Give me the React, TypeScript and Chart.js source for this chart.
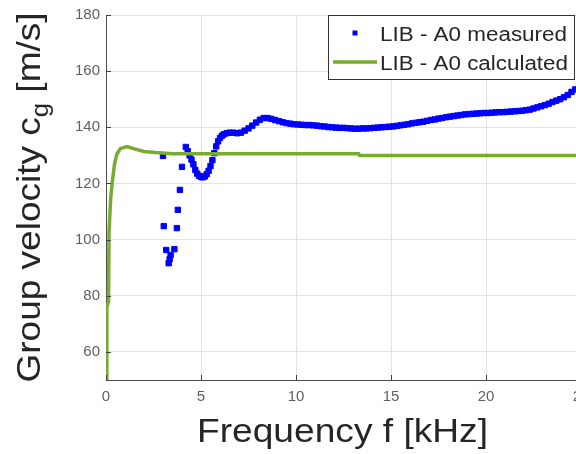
import React, { useEffect, useRef } from "react";
import { Chart, registerables } from "chart.js";

Chart.register(...registerables);

// ---------- data ----------
const xTickValues = [0, 5, 10, 15, 20, 25];
const yTickValues = [60, 80, 100, 120, 140, 160, 180];
const seriesNames = ["LIB - A0 measured", "LIB - A0 calculated"];
const xAxisTitle = "Frequency f [kHz]";
const yAxisTitleMain = "Group velocity c";
const yAxisTitleSub = "g";
const yAxisTitleTail = " [m/s]";

// calculated A0 group velocity (kHz, m/s)
const calcFreq = [0, 0.04, 0.05, 0.13, 0.16, 0.25, 0.34, 0.45, 0.57, 0.75, 1.1, 1.5, 2.0, 2.6, 3.5, 13.3, 13.35, 25];
const calcVel = [50, 62, 76, 78, 103, 115, 121, 127, 130.4, 132.4, 133.1, 132.3, 131.4, 131.0, 130.6, 130.6, 130.0, 130.0];

// measured A0 group velocity (kHz, m/s)
const measFreq = [
  3.0, 3.04, 3.17, 3.3, 3.35, 3.4, 3.6, 3.73, 3.78, 3.89, 4.0,
  4.2, 4.3, 4.4, 4.5, 4.6, 4.7, 4.8, 4.9, 5.0, 5.1, 5.2, 5.3, 5.4, 5.5, 5.6, 5.7, 5.8, 5.9, 6.0, 6.1, 6.2, 6.35, 6.5,
  6.7, 6.9, 7.1, 7.3, 7.5, 7.7, 7.9, 8.1, 8.3, 8.5, 8.7, 8.9, 9.1, 9.3, 9.5, 9.7, 9.9,
  10.1, 10.3, 10.5, 10.7, 10.9, 11.1, 11.3, 11.5, 11.7, 11.9, 12.1, 12.3, 12.5, 12.7, 12.9,
  13.1, 13.3, 13.5, 13.7, 13.9, 14.1, 14.3, 14.5, 14.7, 14.9, 15.1, 15.3, 15.5, 15.7, 15.9,
  16.1, 16.3, 16.5, 16.7, 16.9, 17.1, 17.3, 17.5, 17.7, 17.9, 18.1, 18.3, 18.5, 18.7, 18.9,
  19.1, 19.3, 19.5, 19.7, 19.9, 20.1, 20.3, 20.5, 20.7, 20.9, 21.1, 21.3, 21.5, 21.7, 21.9,
  22.1, 22.3, 22.5, 22.7, 22.9, 23.1, 23.3, 23.5, 23.7, 23.9, 24.1, 24.3, 24.5, 24.7, 24.9, 25.0,
];
const measVel = [
  129.8, 104.8, 96.3, 91.6, 93.0, 94.5, 96.6, 104.1, 110.6, 117.7, 125.9,
  133.0, 131.5, 130.0, 128.5, 126.8, 124.8, 123.5, 122.7, 122.3, 122.2, 122.5, 123.3, 124.5, 126.2, 128.3, 130.8, 133.2, 135.0, 136.2, 137.0, 137.5, 137.9, 138.1,
  138.1, 137.9, 138.1, 138.8, 139.6, 140.6, 141.7, 142.7, 143.3, 143.3, 143.0, 142.6, 142.2, 141.8, 141.5, 141.3, 141.1,
  141.0, 140.9, 140.8, 140.8, 140.7, 140.6, 140.4, 140.3, 140.1, 140.0, 139.9, 139.8, 139.8, 139.7, 139.6,
  139.5, 139.5, 139.6, 139.6, 139.7, 139.8, 139.9, 140.0, 140.1, 140.2, 140.3, 140.5, 140.7, 140.9, 141.1,
  141.4, 141.6, 141.8, 142.0, 142.3, 142.6, 142.8, 143.1, 143.3, 143.6, 143.8, 144.0, 144.2, 144.4, 144.6,
  144.7, 144.8, 144.9, 145.0, 145.1, 145.1, 145.2, 145.3, 145.4, 145.4, 145.5, 145.6, 145.7, 145.8, 145.9,
  146.1, 146.3, 146.7, 147.1, 147.5, 147.9, 148.4, 149.0, 149.5, 150.0, 150.7, 151.5, 152.6, 153.5, 154.2, 154.6,
];

// ---------- styles ----------
const BLUE = "#0000ff";
const GREEN = "#77ac30";
const TEXT = "#262626";
const FONT = '"Liberation Sans", Arial, Helvetica, sans-serif';

type Part = { t: string; size: number; dy: number };

function drawParts(ctx: CanvasRenderingContext2D, parts: Part[], target: number) {
  let total = 0;
  const widths = parts.map((p) => {
    ctx.font = `${p.size}px ${FONT}`;
    const w = ctx.measureText(p.t).width;
    total += w;
    return w;
  });
  const sx = target / total;
  ctx.save();
  ctx.scale(sx, 1);
  let x = 0;
  parts.forEach((p, i) => {
    ctx.font = `${p.size}px ${FONT}`;
    ctx.fillText(p.t, x, p.dy);
    x += widths[i];
  });
  ctx.restore();
}

const overlayPlugin = {
  id: "overlay",
  afterDraw(chart: any) {
    const { ctx, chartArea: a, scales } = chart;
    ctx.save();
    // inward tick marks
    ctx.strokeStyle = "#404040";
    ctx.lineWidth = 1;
    ctx.beginPath();
    yTickValues.forEach((v) => {
      const y = Math.round(scales.y.getPixelForValue(v)) + 0.5;
      ctx.moveTo(a.left, y);
      ctx.lineTo(a.left + 5, y);
    });
    xTickValues.forEach((v) => {
      const x = Math.round(scales.x.getPixelForValue(v)) + 0.5;
      ctx.moveTo(x, a.bottom);
      ctx.lineTo(x, a.bottom - 5);
    });
    ctx.stroke();

    ctx.fillStyle = TEXT;
    ctx.textBaseline = "alphabetic";
    ctx.textAlign = "left";

    // x axis title
    ctx.save();
    ctx.translate(342.5 - 291 / 2, 442);
    drawParts(ctx, [{ t: xAxisTitle, size: 33, dy: 0 }], 291);
    ctx.restore();

    // y axis title with subscript
    const yParts: Part[] = [
      { t: yAxisTitleMain, size: 33, dy: 0 },
      { t: yAxisTitleSub, size: 23, dy: 8 },
      { t: yAxisTitleTail, size: 33, dy: 0 },
    ];
    const yLen = 370;
    ctx.save();
    ctx.translate(40, (a.top + a.bottom) / 2 + yLen / 2);
    ctx.rotate(-Math.PI / 2);
    drawParts(ctx, yParts, yLen);
    ctx.restore();

    // legend
    const lx = 328.5, ly = 15.5, lw = 246, lh = 64;
    ctx.fillStyle = "#ffffff";
    ctx.fillRect(lx, ly, lw, lh);
    ctx.strokeStyle = "#333333";
    ctx.lineWidth = 1;
    ctx.strokeRect(lx, ly, lw, lh);
    ctx.fillStyle = BLUE;
    ctx.fillRect(352.5, 30.5, 5, 5);
    ctx.strokeStyle = GREEN;
    ctx.lineWidth = 3.5;
    ctx.beginPath();
    ctx.moveTo(333, 62);
    ctx.lineTo(377, 62);
    ctx.stroke();
    ctx.fillStyle = TEXT;
    ctx.save();
    ctx.translate(380, 41);
    drawParts(ctx, [{ t: seriesNames[0], size: 20, dy: 0 }], 187);
    ctx.restore();
    ctx.save();
    ctx.translate(380, 70);
    drawParts(ctx, [{ t: seriesNames[1], size: 20, dy: 0 }], 188);
    ctx.restore();

    ctx.restore();
  },
};

export default function App() {
  const canvasRef = useRef<HTMLCanvasElement | null>(null);

  useEffect(() => {
    document.body.style.margin = "0";
    document.documentElement.style.overflow = "hidden";
    document.body.style.overflow = "hidden";
    const canvas = canvasRef.current;
    if (!canvas) return;

    const chart = new Chart(canvas, {
      type: "scatter",
      data: {
        datasets: [
          {
            label: seriesNames[1],
            data: calcFreq.map((f, i) => ({ x: f, y: calcVel[i] })),
            showLine: true,
            borderColor: GREEN,
            backgroundColor: GREEN,
            borderWidth: 3.5,
            pointRadius: 0,
            tension: 0,
          },
          {
            label: seriesNames[0],
            data: measFreq.map((f, i) => ({ x: f, y: measVel[i] })),
            showLine: false,
            backgroundColor: BLUE,
            borderColor: BLUE,
            borderWidth: 1,
            pointStyle: "rect",
            pointRadius: 3.8,
          },
        ],
      },
      options: {
        animation: false,
        responsive: false,
        devicePixelRatio: 1,
        events: [],
        layout: { padding: { top: 13, right: 19, bottom: 0, left: 0 } },
        plugins: {
          legend: { display: false },
          tooltip: { enabled: false },
          title: { display: false },
        },
        scales: {
          x: {
            type: "linear",
            min: 0,
            max: 25,
            afterFit: (s: any) => {
              s.height = 74;
            },
            afterBuildTicks: (s: any) => {
              s.ticks = xTickValues.map((v) => ({ value: v }));
            },
            grid: { color: "#e3e3e3", drawTicks: false, lineWidth: 1 },
            border: { display: true, color: "#4d4d4d", width: 1 },
            ticks: {
              padding: 8,
              color: "#5f5f5f",
              font: { family: FONT, size: 15 },
              maxRotation: 0,
              autoSkip: false,
            },
          },
          y: {
            type: "linear",
            min: 50,
            max: 180,
            afterFit: (s: any) => {
              s.width = 106;
            },
            afterBuildTicks: (s: any) => {
              s.ticks = yTickValues.map((v) => ({ value: v }));
            },
            grid: { color: "#e3e3e3", drawTicks: false, lineWidth: 1 },
            border: { display: true, color: "#4d4d4d", width: 1 },
            ticks: {
              padding: 6,
              color: "#5f5f5f",
              font: { family: FONT, size: 15 },
              autoSkip: false,
            },
          },
        },
      },
      plugins: [overlayPlugin],
    } as any);

    return () => chart.destroy();
  }, []);

  return (
    <div style={{ position: "fixed", left: 0, top: 0, width: 600, height: 454, background: "#ffffff" }}>
      <canvas ref={canvasRef} width={600} height={454} style={{ width: 600, height: 454, display: "block" }} />
    </div>
  );
}
